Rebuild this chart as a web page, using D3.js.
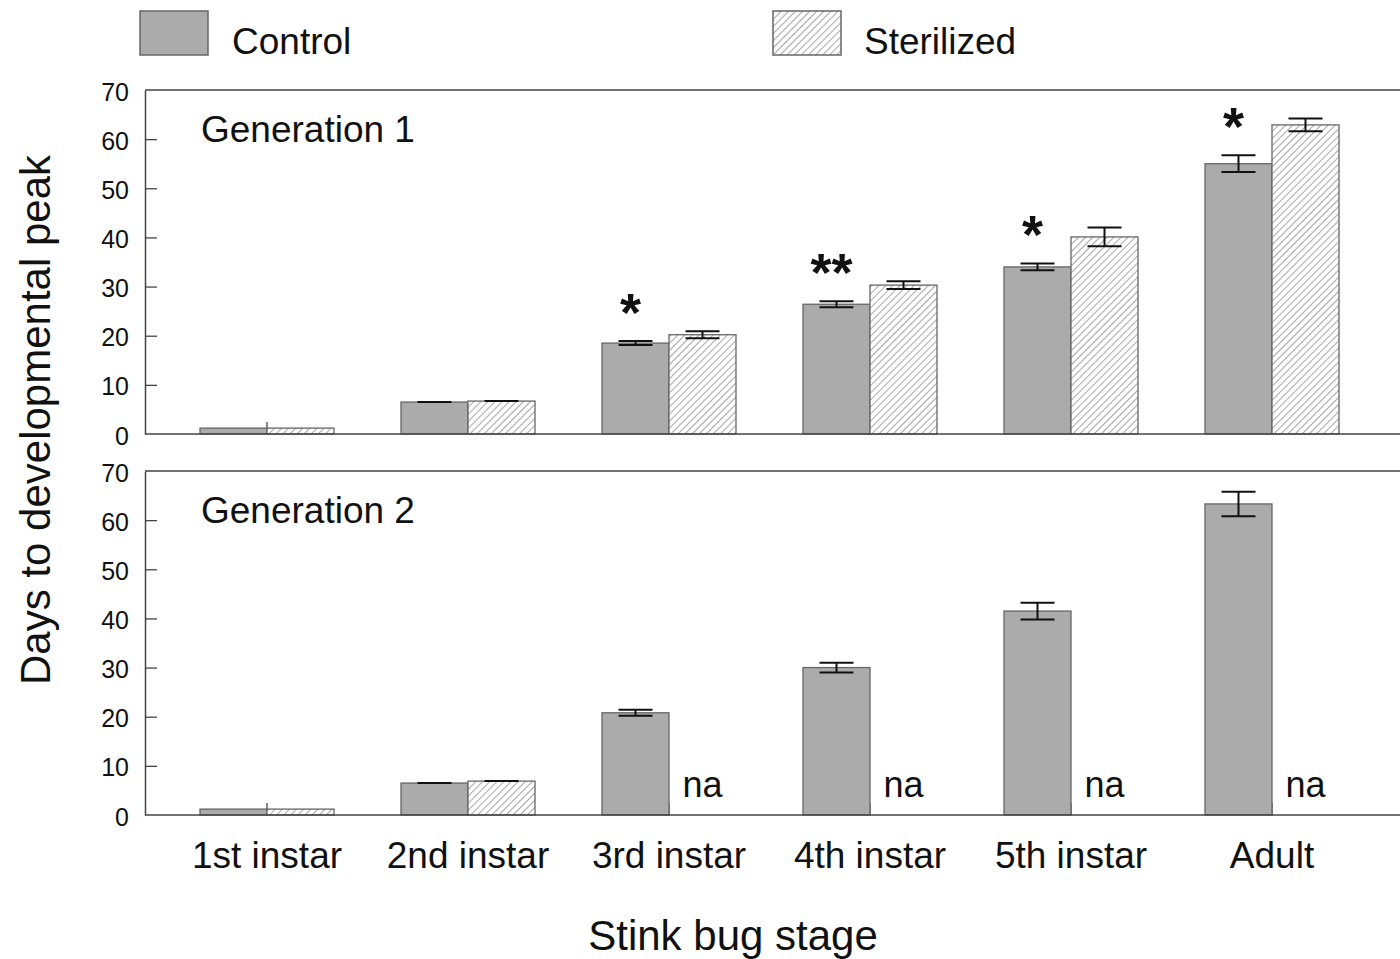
<!DOCTYPE html>
<html>
<head>
<meta charset="utf-8">
<script src="https://cdn.jsdelivr.net/npm/d3@7"></script>
<style>
  body { margin: 0; background: #fff; }
  svg { display: block; font-family: "Liberation Sans", Arial, sans-serif; }
</style>
</head>
<body>
<svg id="chart"></svg>
<script>
// data
const stages = ["1st instar", "2nd instar", "3rd instar", "4th instar", "5th instar", "Adult"];
const groups = ["Control", "Sterilized"];

const gen1Control = [1.2, 6.5, 18.5, 26.4, 34.0, 55.0];
const gen1ControlErr = [0.1, 0.2, 0.4, 0.6, 0.7, 1.7];
const gen1Steril = [1.2, 6.7, 20.2, 30.3, 40.1, 62.9];
const gen1SterilErr = [0.1, 0.2, 0.7, 0.8, 1.9, 1.3];
const gen1Sig = ["", "", "*", "**", "*", "*"];

const gen2Control = [1.2, 6.5, 20.8, 30.0, 41.5, 63.3];
const gen2ControlErr = [0.1, 0.2, 0.6, 1.0, 1.7, 2.5];
const gen2Steril = [1.2, 6.9, null, null, null, null];
const gen2SterilErr = [0.1, 0.2, null, null, null, null];

const yTicks = [0, 10, 20, 30, 40, 50, 60, 70];

const W = 1400, H = 959;
const left = 145, right = 1400;
const svg = d3.select('#chart').attr('width', W).attr('height', H);

const defs = svg.append('defs');
const pat = defs.append('pattern')
    .attr('id', 'hatch')
    .attr('patternUnits', 'userSpaceOnUse')
    .attr('width', 5).attr('height', 5)
    .attr('patternTransform', 'rotate(45)');
pat.append('rect').attr('width', 5).attr('height', 5).attr('fill', '#fff');
pat.append('line')
    .attr('x1', 0).attr('y1', 0).attr('x2', 0).attr('y2', 5)
    .attr('stroke', '#777').attr('stroke-width', 1.3);

const fillFor = g => g === "Control" ? "#ababab" : "url(#hatch)";

const x0 = d3.scaleBand().domain(stages).range([166.5, 1372.5])
    .paddingInner(1 / 3).paddingOuter(1 / 6);
const x1 = d3.scaleBand().domain(groups).range([0, x0.bandwidth()]);

// legend
const legend = [
  {name: "Control", x: 140, tx: 232},
  {name: "Sterilized", x: 773, tx: 864}
];
legend.forEach(l => {
  svg.append('rect')
      .attr('x', l.x).attr('y', 11).attr('width', 68).attr('height', 44)
      .attr('fill', fillFor(l.name))
      .attr('stroke', '#666').attr('stroke-width', 1.5);
  svg.append('text')
      .attr('x', l.tx).attr('y', 54)
      .attr('font-size', 37).attr('fill', '#111')
      .text(l.name);
});

const panel = (top, bottom, title, ctrl, ctrlErr, ster, sterErr, sig) => {
  const y = d3.scaleLinear().domain([0, 70]).range([bottom, top]);
  const g = svg.append('g');

  // frame top
  g.append('line')
      .attr('x1', left).attr('x2', right)
      .attr('y1', top).attr('y2', top)
      .attr('stroke', '#444').attr('stroke-width', 1.5);

  // x ticks pointing up, hidden by bars
  g.append('g')
    .selectAll('line')
    .data(stages)
    .join('line')
      .attr('x1', d => x0(d) + x0.bandwidth() / 2)
      .attr('x2', d => x0(d) + x0.bandwidth() / 2)
      .attr('y1', bottom).attr('y2', bottom - 12)
      .attr('stroke', '#444').attr('stroke-width', 1.3);

  const rows = stages.map((s, i) => ({stage: s, vals: [
    {g: "Control", v: ctrl[i], e: ctrlErr[i]},
    {g: "Sterilized", v: ster[i], e: sterErr[i]}
  ]}));

  const grp = g.selectAll('g.stage')
    .data(rows)
    .join('g')
      .attr('class', 'stage')
      .attr('transform', d => `translate(${x0(d.stage)},0)`);

  const bars = grp.selectAll('g.bar')
    .data(d => d.vals.filter(v => v.v != null))
    .join('g').attr('class', 'bar');

  bars.append('rect')
      .attr('x', d => x1(d.g))
      .attr('y', d => y(d.v))
      .attr('width', x1.bandwidth())
      .attr('height', d => y(0) - y(d.v))
      .attr('fill', d => fillFor(d.g))
      .attr('stroke', '#666').attr('stroke-width', 1.3);

  const eb = bars.filter(d => d.e > 0.3).append('g')
      .attr('stroke', '#111').attr('stroke-width', 2);
  eb.append('line')
      .attr('x1', d => x1(d.g) + x1.bandwidth() / 2)
      .attr('x2', d => x1(d.g) + x1.bandwidth() / 2)
      .attr('y1', d => y(d.v + d.e)).attr('y2', d => y(d.v - d.e));
  eb.append('line')
      .attr('x1', d => x1(d.g) + x1.bandwidth() / 2 - 17)
      .attr('x2', d => x1(d.g) + x1.bandwidth() / 2 + 17)
      .attr('y1', d => y(d.v + d.e)).attr('y2', d => y(d.v + d.e));
  eb.append('line')
      .attr('x1', d => x1(d.g) + x1.bandwidth() / 2 - 17)
      .attr('x2', d => x1(d.g) + x1.bandwidth() / 2 + 17)
      .attr('y1', d => y(d.v - d.e)).attr('y2', d => y(d.v - d.e));

  // small error bars drawn as a thicker cap
  bars.filter(d => d.e <= 0.3).append('line')
      .attr('x1', d => x1(d.g) + x1.bandwidth() / 2 - 17)
      .attr('x2', d => x1(d.g) + x1.bandwidth() / 2 + 17)
      .attr('y1', d => y(d.v)).attr('y2', d => y(d.v))
      .attr('stroke', '#111').attr('stroke-width', d => d.v > 3 ? 2 : 0);

  // na labels
  grp.filter(d => d.vals[1].v == null)
    .append('text')
      .attr('x', x1("Sterilized") + x1.bandwidth() / 2)
      .attr('y', bottom - 18)
      .attr('text-anchor', 'middle')
      .attr('font-size', 36).attr('fill', '#111')
      .text('na');

  // significance stars
  if (sig) {
    grp.filter((d, i) => sig[i])
      .append('text')
        .attr('x', x1("Control") + x1.bandwidth() / 2 - 5)
        .attr('y', (d, i) => y(d.vals[0].v + d.vals[0].e) - 10)
        .attr('text-anchor', 'middle')
        .attr('font-size', 54).attr('font-weight', 'bold').attr('fill', '#111')
        .text(d => sig[stages.indexOf(d.stage)]);
  }

  // axes
  const ya = g.append('g')
      .attr('transform', `translate(${left},0)`)
      .call(d3.axisLeft(y).tickValues(yTicks).tickSizeInner(-12).tickSizeOuter(0).tickPadding(16));
  ya.select('.domain').attr('stroke', '#444').attr('stroke-width', 1.5);
  ya.selectAll('.tick line').attr('stroke', '#444').attr('stroke-width', 1.3)
    .filter(d => d === 0 || d === 70).remove();
  ya.selectAll('.tick text')
      .attr('font-size', 25).attr('font-family', '"Liberation Sans", Arial, sans-serif')
      .attr('fill', '#111').attr('dy', '0.4em');

  g.append('line')
      .attr('x1', left).attr('x2', right)
      .attr('y1', bottom).attr('y2', bottom)
      .attr('stroke', '#444').attr('stroke-width', 1.5);

  g.append('text')
      .attr('x', 201).attr('y', top + 52)
      .attr('font-size', 37).attr('fill', '#111')
      .text(title);

  return y;
};

panel(90, 434, "Generation 1", gen1Control, gen1ControlErr, gen1Steril, gen1SterilErr, gen1Sig);
panel(471, 815, "Generation 2", gen2Control, gen2ControlErr, gen2Steril, gen2SterilErr, null);

// category labels
svg.append('g')
  .selectAll('text')
  .data(stages)
  .join('text')
    .attr('x', d => x0(d) + x0.bandwidth() / 2)
    .attr('y', 868)
    .attr('text-anchor', 'middle')
    .attr('font-size', 37).attr('fill', '#111')
    .text(d => d);

svg.append('text')
    .attr('x', 733).attr('y', 950)
    .attr('text-anchor', 'middle')
    .attr('font-size', 42).attr('fill', '#111')
    .text('Stink bug stage');

svg.append('text')
    .attr('transform', 'translate(50,420) rotate(-90)')
    .attr('text-anchor', 'middle')
    .attr('font-size', 42).attr('fill', '#111')
    .text('Days to developmental peak');
</script>
</body>
</html>
